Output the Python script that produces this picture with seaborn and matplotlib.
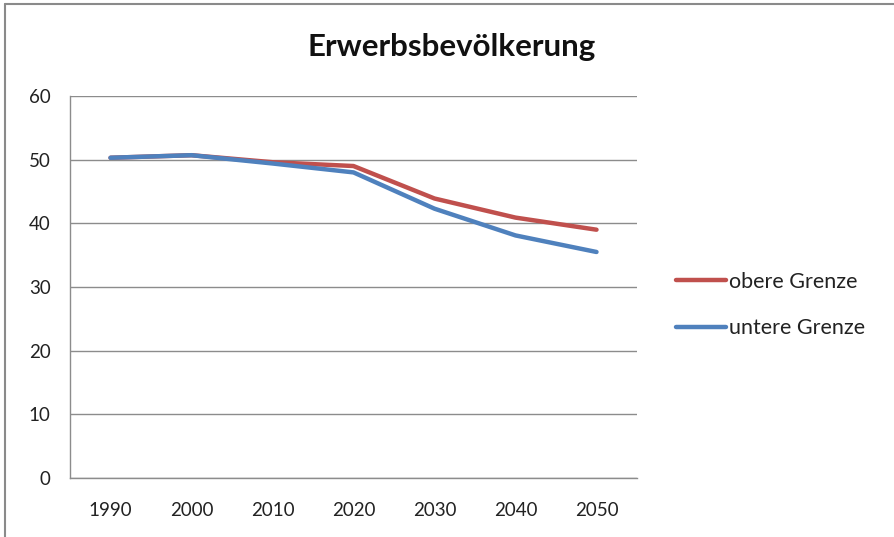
import matplotlib
matplotlib.use("Agg")
import matplotlib.pyplot as plt
from matplotlib.lines import Line2D
import seaborn as sns
import pandas as pd

years = ["1990", "2000", "2010", "2020", "2030", "2040", "2050"]
obere_grenze = [50.3, 50.7, 49.6, 49.0, 43.9, 40.9, 39.0]
untere_grenze = [50.3, 50.7, 49.4, 48.0, 42.3, 38.1, 35.5]
series_names = ["obere Grenze", "untere Grenze"]
y_ticks = [0, 10, 20, 30, 40, 50, 60]

df = pd.DataFrame({
    "Jahr": years * 2,
    "pos": list(range(len(years))) * 2,
    "Wert": obere_grenze + untere_grenze,
    "Reihe": [series_names[0]] * len(years) + [series_names[1]] * len(years),
})

sns.set_style("white")
plt.rcParams["font.family"] = ["Lato", "DejaVu Sans"]

fig = plt.figure(figsize=(8.94, 5.37), dpi=100)
ax = fig.add_axes([70 / 894, 1 - 478 / 537, (637 - 70) / 894, (478 - 96) / 537])

palette = {series_names[0]: "#C0504D", series_names[1]: "#4F81BD"}
sns.lineplot(data=df, x="pos", y="Wert", hue="Reihe", palette=palette,
             linewidth=3.2, ax=ax, legend=False, sort=False)

ax.set_xlim(-0.5, len(years) - 0.5)
ax.set_ylim(0, 60)
ax.set_yticks(y_ticks)
ax.set_yticklabels([str(v) for v in y_ticks], fontsize=13.5, color="#222222")
ax.set_xticks([i for i in range(len(years))])
ax.set_xticklabels(years, fontsize=13.5, color="#222222")
ax.set_xticks([i - 0.5 for i in range(len(years) + 1)], minor=True)
ax.tick_params(axis="x", which="major", length=0, pad=17)
ax.tick_params(axis="x", which="minor", length=7, width=1, color="#8c8c8c", direction="out")
ax.tick_params(axis="y", which="major", length=7, width=1, color="#8c8c8c", direction="out", pad=7)
ax.set_xlabel("")
ax.set_ylabel("")
ax.yaxis.grid(True, color="#8c8c8c", linewidth=1)
ax.set_axisbelow(True)
for side in ["top", "right"]:
    ax.spines[side].set_visible(False)
for side in ["left", "bottom"]:
    ax.spines[side].set_color("#8c8c8c")
    ax.spines[side].set_linewidth(1)

fig.text(452 / 894, 1 - 47 / 537, "Erwerbsbevölkerung", ha="center", va="center",
         fontsize=22.5, fontweight="bold", color="#111111")

handles = [Line2D([0], [0], color=palette[n], linewidth=3.2) for n in series_names]
fig.legend(handles, series_names, loc="center left",
           bbox_to_anchor=(657 / 894, 1 - 305 / 537), frameon=False,
           fontsize=15.5, handlelength=2.3, handletextpad=0.15,
           labelspacing=1.25, labelcolor="#222222")

# chart frame (top and left edges)
fig.add_artist(Line2D([5 / 894, 5 / 894], [0, 1 - 4 / 537], transform=fig.transFigure,
                      color="#8a8a8a", linewidth=1.5))
fig.add_artist(Line2D([5 / 894, 1], [1 - 4 / 537, 1 - 4 / 537], transform=fig.transFigure,
                      color="#8a8a8a", linewidth=1.5))

fig.savefig("out.png", dpi=100)
